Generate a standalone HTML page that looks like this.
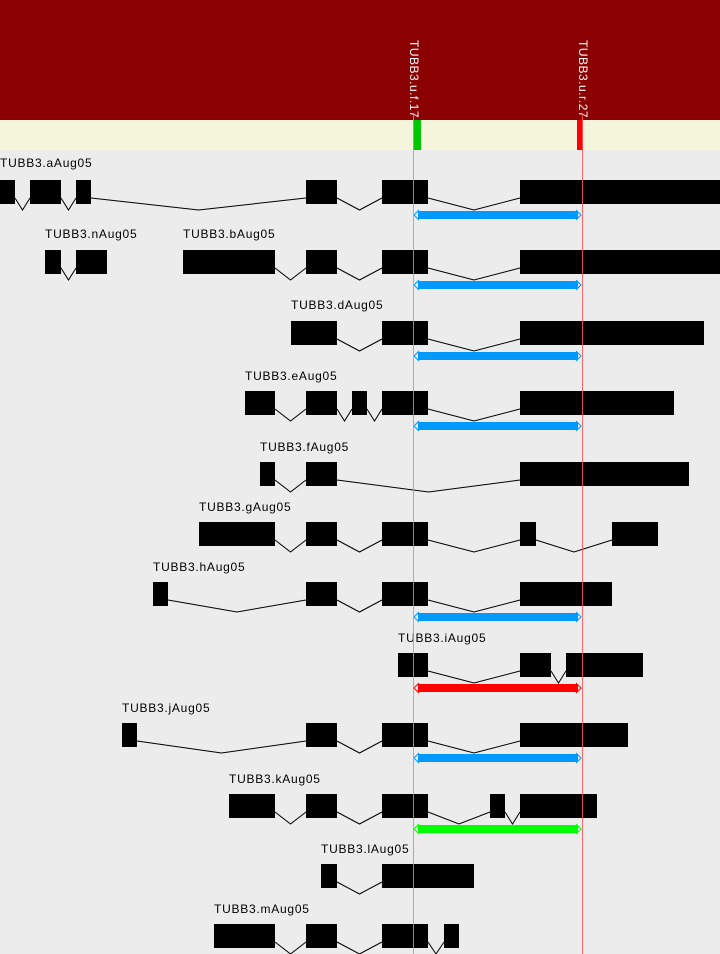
<!DOCTYPE html>
<html><head><meta charset="utf-8"><style>
html,body{margin:0;padding:0;background:#ececec}
svg{display:block}
text{font-family:"Liberation Sans",sans-serif;font-size:12px;letter-spacing:0.75px}
</style></head><body>
<svg id="s" width="720" height="954" xmlns="http://www.w3.org/2000/svg">
<rect x="0" y="0" width="720" height="120" fill="#8b0000"/>
<rect x="0" y="120" width="720" height="30" fill="#f5f5dc"/>
<rect x="413" y="120" width="8" height="30" fill="#00c800"/>
<rect x="577" y="120" width="6" height="30" fill="#ff0000"/>
<text transform="translate(410,40) rotate(90)" fill="#fff" style="letter-spacing:0.5px">TUBB3.u.f.17</text>
<text transform="translate(579,40) rotate(90)" fill="#fff" style="letter-spacing:0.5px">TUBB3.u.r.27</text>
<g fill="#000">
<text x="0" y="167">TUBB3.aAug05</text>
<text x="45" y="238">TUBB3.nAug05</text>
<text x="183" y="238">TUBB3.bAug05</text>
<text x="291" y="309">TUBB3.dAug05</text>
<text x="245" y="380">TUBB3.eAug05</text>
<text x="260" y="451">TUBB3.fAug05</text>
<text x="199" y="511">TUBB3.gAug05</text>
<text x="153" y="571">TUBB3.hAug05</text>
<text x="398" y="642">TUBB3.iAug05</text>
<text x="122" y="712">TUBB3.jAug05</text>
<text x="229" y="783">TUBB3.kAug05</text>
<text x="321" y="853">TUBB3.lAug05</text>
<text x="214" y="913">TUBB3.mAug05</text>
</g>
<g id="g"></g>
</svg>
<script>
var rows=[
[180,[[0,15],[30,61],[76,91],[306,337],[382,428],[520,720]],'#0099ff'],
[250,[[45,61],[76,107]],null],
[250,[[183,275],[306,337],[382,428],[520,720]],'#0099ff'],
[321,[[291,337],[382,428],[520,704]],'#0099ff'],
[391,[[245,275],[306,337],[352,367],[382,428],[520,674]],'#0099ff'],
[462,[[260,275],[306,337],[520,689]],null],
[522,[[199,275],[306,337],[382,428],[520,536],[612,658]],null],
[582,[[153,168],[306,337],[382,428],[520,612]],'#0099ff'],
[653,[[398,428],[520,551],[566,643]],'#ff0000'],
[723,[[122,137],[306,337],[382,428],[520,628]],'#0099ff'],
[794,[[229,275],[306,337],[382,428],[490,505],[520,597]],'#00ff00'],
[864,[[321,337],[382,474]],null],
[924,[[214,275],[306,337],[382,428],[444,459]],null]];
var h='';
rows.forEach(function(r){var t=r[0],ex=r[1];
for(var i=0;i<ex.length-1;i++){var a=ex[i][1],b=ex[i+1][0],m=(a+b)/2;
h+='<polyline points="'+a+','+(t+18)+' '+m+','+(t+30)+' '+b+','+(t+18)+'" fill="none" stroke="#000" stroke-width="1"/>';}
ex.forEach(function(e){h+='<rect x="'+e[0]+'" y="'+t+'" width="'+(e[1]-e[0])+'" height="24" fill="#000"/>';});
if(r[2]){var y=t+35,c=r[2];
h+='<rect x="418" y="'+(y-4)+'" width="160" height="8" fill="'+c+'"/>';
h+='<polyline points="419,'+(y-5)+' 414,'+y+' 419,'+(y+5)+'" fill="none" stroke="'+c+'" stroke-width="1"/>';
h+='<polyline points="576,'+(y-5)+' 581,'+y+' 576,'+(y+5)+'" fill="none" stroke="'+c+'" stroke-width="1"/>';}
});
h+='<line x1="413.5" y1="113" x2="413.5" y2="954" stroke="#66cc66" stroke-opacity="0.85"/>';
h+='<line x1="582.5" y1="113" x2="582.5" y2="954" stroke="#ff5555" stroke-opacity="0.85"/>';
document.getElementById('g').innerHTML=h;
</script>
</body></html>
